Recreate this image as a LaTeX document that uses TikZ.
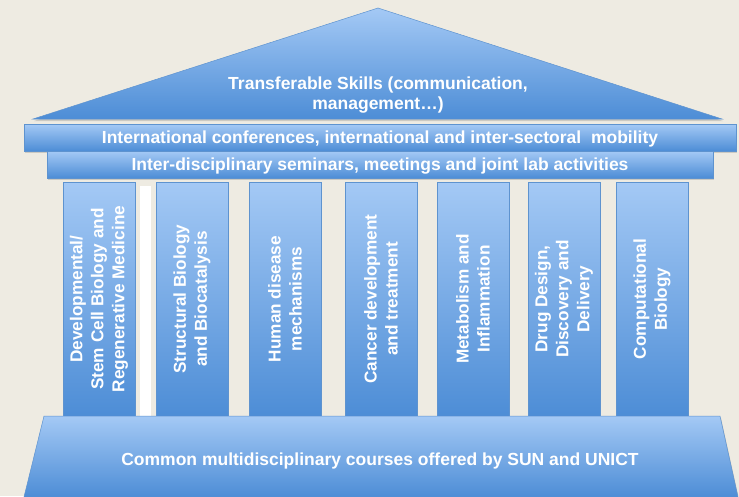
\documentclass[tikz,border=0pt]{standalone}
\usepackage{fontspec}
\setmainfont{Liberation Sans}
\usetikzlibrary{shadows}
\definecolor{bg}{HTML}{EEEBE2}
\definecolor{lightb}{HTML}{A4C9F5}
\definecolor{darkb}{HTML}{4D8DD6}
\definecolor{edgeb}{HTML}{5E93CF}
\tikzset{
  bluefill/.style={top color=lightb, bottom color=darkb, draw=edgeb, line width=0.5pt},
  shad/.style={drop shadow={shadow xshift=1pt, shadow yshift=-2pt, opacity=0.25, fill=black!60}},
  wtext/.style={text=white, font=\bfseries\fontsize{17.5}{20}\selectfont, align=center, inner sep=0pt},
  beam/.style={bluefill, shad, rectangle, minimum height=27pt, inner sep=0pt, text=white,
               text depth=0pt, font=\bfseries\fontsize{17.5}{20}\selectfont},
  pillar/.style={bluefill, shad, rectangle, minimum width=72pt, minimum height=234pt, inner sep=0pt},
  ptext/.style={text=white, rotate=90, align=center, inner sep=0pt,
                font=\bfseries\fontsize{17.2}{21}\selectfont},
}
\begin{document}
\begin{tikzpicture}[x=1pt,y=-1pt]
\fill[bg] (0,0) rectangle (739,496);
\useasboundingbox (0,0) rectangle (739,496);

% roof
\shade[bluefill, shad] (378,8) -- (722,119) -- (33,119) -- cycle;
\node[wtext] (roof) at (378,95.5) {Transferable Skills (communication,\\management\dots)};

% beams
\node[beam, minimum width=712pt] (beam1) at (380,137.5)
  {International conferences, international and inter-sectoral\ \ mobility};
\node[beam, minimum width=666pt] (beam2) at (380,164.5)
  {Inter-disciplinary seminars, meetings and joint lab activities};

% white strip
\fill[white] (140,186) rectangle (151,416);

% pillars
\node[pillar] (p1) at (99,299) {};
\node[pillar] (p2) at (192,299) {};
\node[pillar] (p3) at (285,299) {};
\node[pillar] (p4) at (381,299) {};
\node[pillar] (p5) at (473,299) {};
\node[pillar] (p6) at (564,299) {};
\node[pillar] (p7) at (652,299) {};
\node[ptext] (t1) at (p1) {Developmental/\\Stem Cell Biology and\\Regenerative Medicine};
\node[ptext] (t2) at (p2) {Structural Biology\\and Biocatalysis};
\node[ptext] (t3) at (p3) {Human disease\\mechanisms};
\node[ptext] (t4) at (p4) {Cancer development\\and treatment};
\node[ptext] (t5) at (p5) {Metabolism and\\Inflammation};
\node[ptext] (t6) at (p6) {Drug Design,\\Discovery and\\Delivery};
\node[ptext] (t7) at (p7) {Computational\\Biology};

% base
\shade[bluefill, shad] (44,416) -- (720,416) -- (738,497) -- (24,497) -- cycle;
\node[wtext] (base) at (380,461) {Common multidisciplinary courses offered by SUN and UNICT};
\end{tikzpicture}
\end{document}
